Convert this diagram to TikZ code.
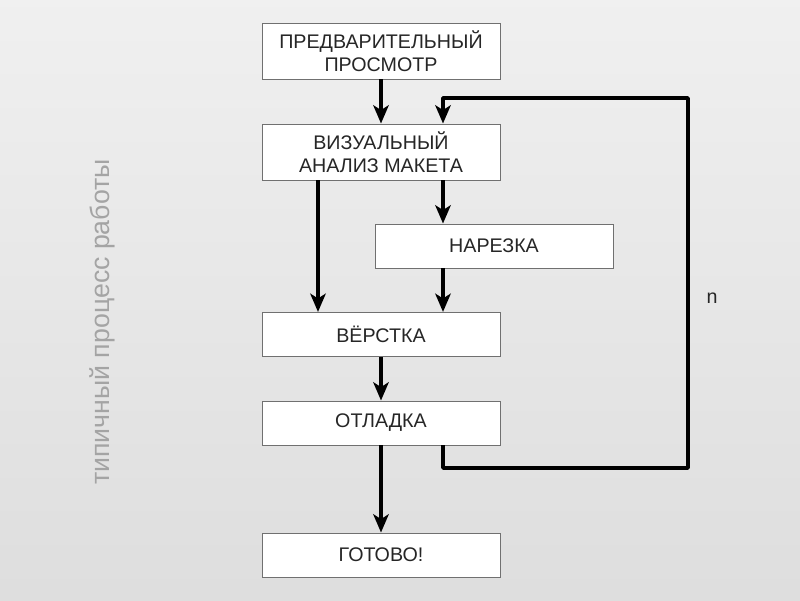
\documentclass[tikz,border=0pt]{standalone}
\usepackage{fontspec}
\setmainfont{Liberation Sans}
\usetikzlibrary{arrows.meta,positioning,calc}

\definecolor{boxline}{HTML}{707070}
\definecolor{sidetext}{HTML}{A4A4A4}

\begin{document}
\begin{tikzpicture}[
    stage/.style={draw=boxline,line width=0.7pt,fill=white,minimum width=5.95cm,minimum height=1.1cm,
        align=center,font=\fontsize{14}{16.3}\selectfont,text=black!85,inner sep=0pt},
    tall/.style={minimum height=1.4cm},
    flow/.style={line width=2.7pt,-{Stealth[length=13pt,width=11pt,inset=3.5pt]}}
  ]
    % background
    \shade[top color=black!6,bottom color=black!13] (0,0) rectangle (20,15);
    \useasboundingbox (0,0) rectangle (20,15);

    \node[rotate=90,text=sidetext,font=\fontsize{19}{23}\selectfont] (side) at (2.55,6.95) {типичный процесс работы};

    \node[stage,tall] (pre) at (9.525,13.725) {ПРЕДВАРИТЕЛЬНЫЙ\\ПРОСМОТР};
    \node[stage,tall] (vis) at (9.525,11.2) {ВИЗУАЛЬНЫЙ\\АНАЛИЗ МАКЕТА};
    \node[stage] (cut) at (12.35,8.85) {НАРЕЗКА};
    \node[stage] (lay) at (9.525,6.64) {ВЁРСТКА};
    \node[stage] (dbg) at (9.525,4.425) {ОТЛАДКА};
    \node[stage] (done) at (9.525,1.125) {ГОТОВО!};

    \coordinate (rx) at (11.075,0);
    \coordinate (lx) at (7.95,0);
    \coordinate (bot) at (17.2,3.3);
    \coordinate (top) at (17.2,12.55);

    \draw[flow] (pre) -- (vis);
    \draw[flow] (vis.south -| lx) -- (lay.north -| lx);
    \draw[flow] (vis.south -| rx) -- (cut.north -| rx);
    \draw[flow] (cut.south -| rx) -- (lay.north -| rx);
    \draw[flow] (lay) -- (dbg);
    \draw[flow] (dbg) -- (done);
    \draw[flow,line join=round] (dbg.south -| rx) |- (bot)
        -- node[pos=0.46,right=0.3cm,font=\fontsize{14}{16}\selectfont,text=black!85] (lbl) {n} (top)
        -| (vis.north -| rx);
\end{tikzpicture}
\end{document}
